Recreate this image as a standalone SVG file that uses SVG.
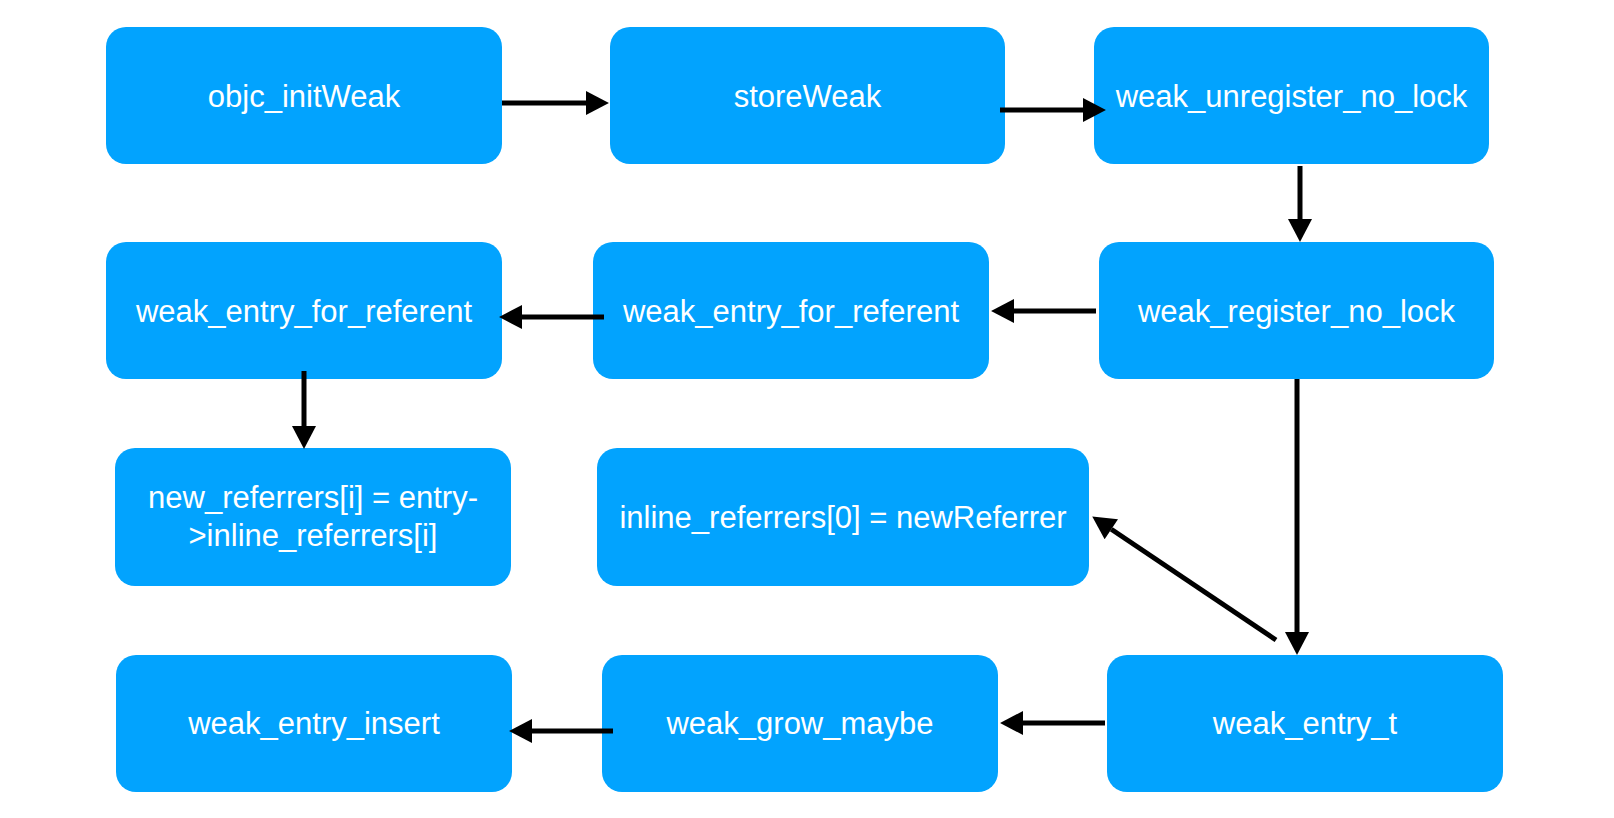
<svg xmlns="http://www.w3.org/2000/svg" width="1614" height="818" viewBox="0 0 1614 818">
<defs>
<style>
.box{fill:#02A3FE;}
.lbl{fill:#ffffff;font-family:"Liberation Sans",Arial,Helvetica,sans-serif;font-size:31px;text-anchor:middle;}
.edge{stroke:#000;stroke-width:5;fill:none;marker-end:url(#ah);}
</style>
<marker id="ah" markerUnits="userSpaceOnUse" markerWidth="24" markerHeight="24" refX="0" refY="11.5" orient="auto" viewBox="0 0 22 23">
<path d="M0,0 L22,11.5 L0,23 z" fill="#000"/>
</marker>
</defs>
<rect width="1614" height="818" fill="#ffffff"/>
<g id="n1"><rect class="box" x="106" y="27" width="396" height="137" rx="20"/><text class="lbl" x="304" y="107">objc_initWeak</text></g>
<g id="n2"><rect class="box" x="610" y="27" width="395" height="137" rx="20"/><text class="lbl" x="807.5" y="107">storeWeak</text></g>
<g id="n3"><rect class="box" x="1094" y="27" width="395" height="137" rx="20"/><text class="lbl" x="1291.5" y="107">weak_unregister_no_lock</text></g>
<g id="n4"><rect class="box" x="1099" y="242" width="395" height="137" rx="20"/><text class="lbl" x="1296.5" y="322">weak_register_no_lock</text></g>
<g id="n5"><rect class="box" x="593" y="242" width="396" height="137" rx="20"/><text class="lbl" x="791" y="322">weak_entry_for_referent</text></g>
<g id="n6"><rect class="box" x="106" y="242" width="396" height="137" rx="20"/><text class="lbl" x="304" y="322">weak_entry_for_referent</text></g>
<g id="n7"><rect class="box" x="115" y="448" width="396" height="138" rx="20"/><text class="lbl" x="313" y="508">new_referrers[i] = entry-</text><text class="lbl" x="313" y="546">&gt;inline_referrers[i]</text></g>
<g id="n8"><rect class="box" x="597" y="448" width="492" height="138" rx="20"/><text class="lbl" x="843" y="528">inline_referrers[0] = newReferrer</text></g>
<g id="n9"><rect class="box" x="1107" y="655" width="396" height="137" rx="20"/><text class="lbl" x="1305" y="734">weak_entry_t</text></g>
<g id="n10"><rect class="box" x="602" y="655" width="396" height="137" rx="20"/><text class="lbl" x="800" y="734">weak_grow_maybe</text></g>
<g id="n11"><rect class="box" x="116" y="655" width="396" height="137" rx="20"/><text class="lbl" x="314" y="734">weak_entry_insert</text></g>
<g id="edges">
<path class="edge" d="M502,103 L586,103"/>
<path class="edge" d="M1000,110 L1083,110"/>
<path class="edge" d="M1300,166 L1300,219"/>
<path class="edge" d="M1096,311 L1014,311"/>
<path class="edge" d="M604,317 L522,317"/>
<path class="edge" d="M304,371 L304,426"/>
<path class="edge" d="M1297,379 L1297,632"/>
<path class="edge" d="M1276,640 L1111.3,529.3"/>
<path class="edge" d="M1105,723 L1023,723"/>
<path class="edge" d="M613,731 L532,731"/>
</g>
</svg>
